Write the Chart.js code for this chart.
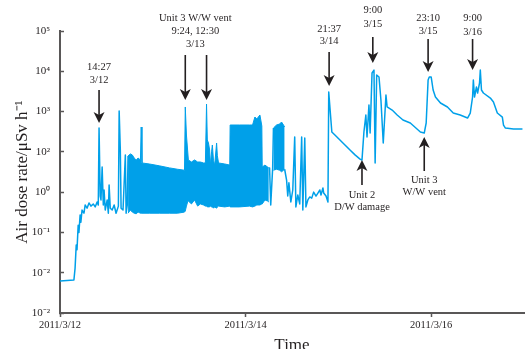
<!DOCTYPE html>
<html>
<head>
<meta charset="utf-8">
<script src="https://cdn.jsdelivr.net/npm/chart.js@4/dist/chart.umd.min.js"></script>
<style>
  body { margin: 0; background: #fff; }
  canvas { display: block; }
</style>
</head>
<body>
<canvas id="myChart" width="528" height="349"></canvas>
<script>
// hours after 2011/3/12 00:00, dose rate (μSv/h)
var hours = [0, 3.6, 3.9, 4.2, 4.4, 4.7, 4.9, 5.2, 5.4, 5.7, 6.2, 6.5, 7.0, 7.5, 8.0, 8.6, 9.1, 9.6, 9.9, 10.1,
  10.4, 10.6, 10.9, 11.2, 11.4, 11.7, 12.2, 12.5, 12.7, 13.0, 13.5, 14.0, 14.5, 15.1, 15.3, 15.6, 15.8, 16.3, 16.9, 17.1,
  17.4, 17.6, 17.7,
  54.0, 54.2, 54.5, 55.0, 55.2, 55.3,
  58.1, 58.6, 58.9, 59.2, 59.7, 60.2, 60.7, 61.0, 61.5, 62.0, 62.5, 62.8, 63.3, 63.6, 64.1, 64.6, 65.1, 65.6, 66.2, 66.7,
  67.2, 67.5, 68.0, 68.2, 68.8, 69.3, 69.5, 70.3, 71.1, 72.4, 73.7, 75.0, 76.3, 77.6, 78.1, 78.6, 79.1, 79.4, 79.9, 80.2,
  80.7, 81.2, 81.5, 81.9, 82.5, 83.0, 83.6, 84.3, 84.6, 85.9, 87.2, 88.7, 90.6, 93.2, 94.2, 94.7, 95.2, 95.5, 96.0, 96.5,
  97.1, 98.4, 100.2, 101.7, 103.5, 105.4, 106.1, 106.7, 106.9, 107.2, 107.7, 108.0, 108.5, 108.7, 109.0, 109.5, 111.3, 112.1, 113.1, 114.4,
  114.7, 115.2, 117.3, 119.6];
var dose = [0.062, 0.066, 0.13, 0.49, 0.37, 1.5, 1.0, 2.7, 1.8, 3.6, 3.0, 4.8, 4.0, 5.4, 4.5, 5.1, 4.3, 5.7, 4.8, 391,
  8.0, 6.4, 42, 4.8, 11.3, 3.6, 6.4, 3.0, 15, 4.0, 3.6, 4.8, 3.0, 4.5, 1030, 111, 4.0, 3.6, 84, 3.0,
  4.8, 79, null,
  40, 40, 4.8, 40, 391, null,
  37, 20, 8.0, 17, 5.7, 11.3, 234, 4.3, 8.5, 5.1, 234, 3.6, 221, 4.3, 6.4, 7.6, 7.1, 10, 8.0, 9.5,
  11.3, 8.5, 12.7, 9.5, 8.0, 5.7, 3060, 311, 262, 197, 148, 111, 84, 66, 63, 311, 823, 234, 1450, 293,
  9060, 10700, 53, 8090, 7200, 1940, 166, 2580, 1300, 1090, 823, 617, 520, 311, 293, 520, 6070, 7200, 7200, 3430,
  2300, 1630, 1300, 920, 820, 690, 920, 2300, 6070, 2300, 4070, 2890, 5120, 10700, 3430, 2890, 2170, 1730, 920, 730,
  463, 390, 369, 369];

// dense oscillating periods: upper and lower envelope
var bandHours = [17.6, 18.2, 18.7, 19.2, 19.7, 20.2, 20.8, 21.0, 21.2, 23.1, 25.7, 28.3, 30.4, 32.2, 32.4, 32.7, 33.0, 33.2, 34.0, 34.8,
  35.6, 36.3, 37.1, 37.6, 37.9, 38.1, 38.4, 38.7, 38.9, 39.2, 39.4, 39.7, 40.0, 40.5, 40.7, 41.0, 42.6, 43.9, 44.0, 46.4,
  49.0, 49.8, 50.4, 50.9, 51.7, 52.2, 52.3, 53.0, 53.7, 54.0];
var bandHigh = [79, 89, 84, 70, 63, 70, 63, 414, 53, 50, 45, 40, 37, 35, 1300, 262, 111, 63, 56, 63,
  56, 56, 53, 53, 1540, 197, 166, 111, 47, 100, 148, 60, 47, 166, 80, 53, 50, 47, 464, 464,
  464, 464, 733, 654, 823, 438, 42, 47, 42, 40];
var bandLow = [3.0, 3.6, 3.2, 3.0, 2.9, 3.2, 3.0, 3.0, 3.0, 3.0, 3.0, 3.0, 3.0, 3.2, 3.4, 4.5, 5.7, 6.0, 5.1, 6.4,
  4.5, 5.1, 4.8, 4.5, 4.5, 4.3, 4.3, 4.3, 4.5, 4.3, 4.3, 4.0, 4.3, 4.0, 4.3, 4.5, 4.3, 4.5, 4.3, 4.3,
  4.5, 4.3, 4.5, 4.8, 4.8, 5.1, 5.1, 6.4, 6.0, 5.7];
var band2Hours = [55.2, 56.0, 56.8, 57.3, 57.8, 58.1];
var band2High = [391, 464, 491, 551, 464, 414];
var band2Low = [35, 37, 35, 32, 35, 37];

var xTickHours = [0, 48, 96];
var xTickLabels = ['2011/3/12', '2011/3/14', '2011/3/16'];
var yTickValues = [1e-2, 1e-1, 1e0, 1e1, 1e2, 1e3, 1e4, 1e5];
var yTickLabels = ['10⁻²', '10⁻²', '10⁻¹', '10⁰', '10²', '10³', '10⁴', '10⁵'];

// arrows: x in hours, tip value, length px, text gap/spacing px
var notes = [
  {xs: [10.1], tx: 10.1, tip: 521, len: 33, gap: 10, sp: 13, lines: ['14:27', '3/12']},
  {xs: [32.4, 37.9], tx: 35.0, tip: 1940, len: 45, gap: 11, sp: 13, lines: ['Unit 3 W/W vent', '9:24, 12:30', '3/13']},
  {xs: [69.6], tx: 69.6, tip: 4315, len: 34, gap: 11, sp: 12, lines: ['21:37', '3/14']},
  {xs: [80.9], tx: 80.9, tip: 16070, len: 26, gap: 13, sp: 14, lines: ['9:00', '3/15']},
  {xs: [95.2], tx: 95.2, tip: 9600, len: 33, gap: 8, sp: 13, lines: ['23:10', '3/15']},
  {xs: [106.7], tx: 106.7, tip: 10770, len: 31, gap: 7, sp: 14, lines: ['9:00', '3/16']},
  {xs: [78.1], tx: 78.1, tip: 63, len: 25, gap: 10, sp: 12, up: true, lines: ['Unit 2', 'D/W damage']},
  {xs: [94.2], tx: 94.2, tip: 234, len: 34, gap: 9, sp: 12, up: true, lines: ['Unit 3', 'W/W vent']}
];

var blue = '#00a0e9';
var ink = '#231f20';
var axisGray = '#595757';
var serif = "'Liberation Serif', 'Times New Roman', serif";

function pts(xs, ys) {
  return xs.map(function (x, i) { return {x: x, y: ys[i]}; });
}

var arrowPlugin = {
  id: 'arrows',
  afterDatasetsDraw: function (chart) {
    var ctx = chart.ctx;
    var sx = chart.scales.x, sy = chart.scales.y;
    ctx.save();
    ctx.fillStyle = ink;
    ctx.strokeStyle = ink;
    ctx.lineWidth = 1.6;
    ctx.font = '10.5px ' + serif;
    ctx.textAlign = 'center';
    ctx.textBaseline = 'middle';
    notes.forEach(function (n) {
      var tipY = sy.getPixelForValue(n.tip);
      var d = n.up ? -1 : 1;
      var tailY = tipY - d * n.len;
      n.xs.forEach(function (h) {
        var px = sx.getPixelForValue(h);
        ctx.beginPath();
        ctx.moveTo(px, tailY);
        ctx.lineTo(px, tipY - d * 7);
        ctx.stroke();
        ctx.beginPath();
        ctx.moveTo(px, tipY);
        ctx.lineTo(px - 5.5, tipY - d * 11);
        ctx.lineTo(px, tipY - d * 8);
        ctx.lineTo(px + 5.5, tipY - d * 11);
        ctx.closePath();
        ctx.fill();
      });
      var cx = sx.getPixelForValue(n.tx);
      var k = n.lines.length;
      n.lines.forEach(function (t, i) {
        var y;
        if (n.up) y = tailY + n.gap + i * n.sp;
        else y = tailY - n.gap - (k - 1 - i) * n.sp;
        ctx.fillText(t, cx, y);
      });
    });
    ctx.restore();
  }
};

var ctx = document.getElementById('myChart').getContext('2d');
var myChart = new Chart(ctx, {
  type: 'line',
  data: {
    datasets: [
      {data: pts(bandHours, bandHigh), borderColor: blue, borderWidth: 1, pointRadius: 0, fill: false, borderJoinStyle: 'round'},
      {data: pts(bandHours, bandLow), borderColor: blue, borderWidth: 1, pointRadius: 0, fill: '-1', backgroundColor: blue, borderJoinStyle: 'round'},
      {data: pts(band2Hours, band2High), borderColor: blue, borderWidth: 1, pointRadius: 0, fill: false, borderJoinStyle: 'round'},
      {data: pts(band2Hours, band2Low), borderColor: blue, borderWidth: 1, pointRadius: 0, fill: '-1', backgroundColor: blue, borderJoinStyle: 'round'},
      {data: pts(hours, dose), borderColor: blue, borderWidth: 1.5, pointRadius: 0, fill: false, spanGaps: false, borderJoinStyle: 'round'}
    ]
  },
  options: {
    responsive: false,
    animation: false,
    devicePixelRatio: 1,
    layout: {padding: {top: 31, right: 4, left: 0, bottom: 0}},
    plugins: {legend: {display: false}, tooltip: {enabled: false}},
    elements: {line: {tension: 0}},
    scales: {
      x: {
        type: 'linear', min: 0, max: 120,
        afterBuildTicks: function (s) { s.ticks = xTickHours.map(function (v) { return {value: v}; }); },
        afterFit: function (s) { s.height = 36; },
        ticks: {
          autoSkip: false, maxRotation: 0, padding: 2, color: ink,
          font: {family: serif, size: 10.5},
          callback: function (v, i) { return xTickLabels[i]; }
        },
        grid: {drawOnChartArea: false, tickLength: 4, color: axisGray, tickWidth: 1.5},
        border: {color: axisGray, width: 2},
        title: {display: true, text: 'Time', color: ink, font: {family: serif, size: 17}, padding: {top: 0, bottom: -7}}
      },
      y: {
        type: 'logarithmic', min: 0.01, max: 1e5,
        afterBuildTicks: function (s) { s.ticks = yTickValues.map(function (v) { return {value: v}; }); },
        afterFit: function (s) { s.width = 60; },
        ticks: {
          padding: 14, color: ink,
          font: {family: serif, size: 11},
          callback: function (v, i) { return yTickLabels[i]; }
        },
        grid: {drawOnChartArea: false, tickLength: -4, color: axisGray, tickWidth: 1.5},
        border: {color: axisGray, width: 2},
        title: {display: true, text: 'Air dose rate/μSv h⁻¹', color: ink, font: {family: serif, size: 17}, padding: {top: 12, bottom: 0}}
      }
    }
  },
  plugins: [arrowPlugin]
});
</script>
</body>
</html>
